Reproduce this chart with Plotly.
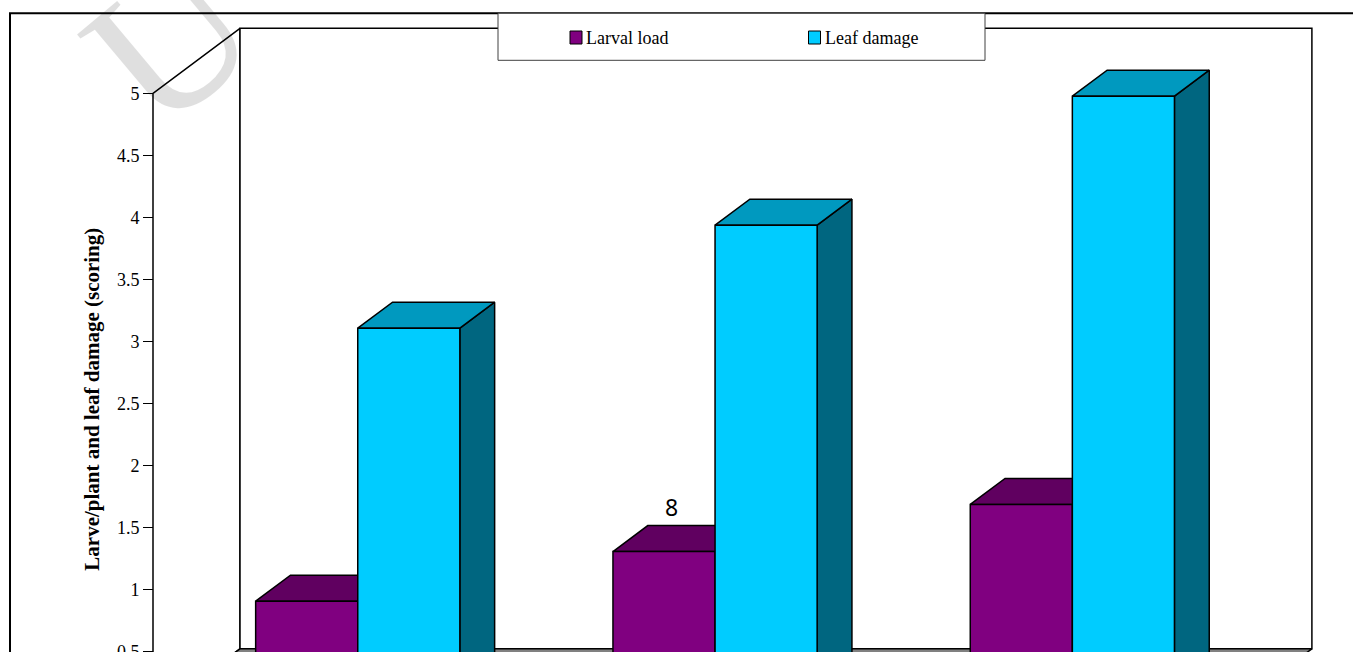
import plotly.graph_objects as go

# ---------------- data ----------------
categories = ["Group 1", "Group 2", "Group 3"]
series_names = ["Larval load", "Leaf damage"]
larval_load = [0.75, 1.15, 1.53]
leaf_damage = [2.95, 3.78, 4.82]
y_tick_vals = [0, 0.5, 1, 1.5, 2, 2.5, 3, 3.5, 4, 4.5, 5]
y_tick_text = ["0", "0.5", "1", "1.5", "2", "2.5", "3", "3.5", "4", "4.5", "5"]
axis_title = "Larve/plant and leaf damage (scoring)"
stray_label = "8"
watermark_text = "U"

# ---------------- layout / style constants ----------------
W, H = 1353, 652
FRONT_LEFT_PX = 153.0      # pixel x of front-left floor corner
CAT_PX = 357.3             # pixel width of one category
ZERO_PX = 713.8            # pixel y of value 0 on the front plane
UNIT_PX = 124.1            # pixels per value unit
DEPTH_DX_PX, DEPTH_DY_PX = 87.0, 65.0
YMAX = 5.0
GAP = 1.5                  # gap width (fraction of bar width)
Z0, Z1 = 0.3, 0.7          # depth extent of bars

x_range = [-FRONT_LEFT_PX / CAT_PX, (W - FRONT_LEFT_PX) / CAT_PX]
y_range = [(ZERO_PX - H) / UNIT_PX, ZERO_PX / UNIT_PX]
DX = DEPTH_DX_PX / CAT_PX
DV = DEPTH_DY_PX / UNIT_PX
N = len(categories)
BW = 1.0 / (len(series_names) + GAP)

front_colors = ["#800080", "#00CCFF"]
top_colors = ["#600060", "#0099BF"]
side_colors = ["#400040", "#006680"]
LINE = dict(color="black", width=1.5)


def proj(x, v, z):
    return x + z * DX, v + z * DV


def poly(pts):
    xs, ys = [], []
    for (x, v, z) in pts:
        px, py = proj(x, v, z)
        xs.append(px)
        ys.append(py)
    xs.append(xs[0])
    ys.append(ys[0])
    return xs, ys


def multi(polys):
    X, Y = [], []
    for pts in polys:
        xs, ys = poly(pts)
        X += xs + [None]
        Y += ys + [None]
    return X, Y


fig = go.Figure()

# walls and floor
side_wall = [(0, 0, 0), (0, 0, 1), (0, YMAX, 1), (0, YMAX, 0)]
back_wall = [(0, 0, 1), (N, 0, 1), (N, YMAX, 1), (0, YMAX, 1)]
floor = [(0, 0, 0), (N, 0, 0), (N, 0, 1), (0, 0, 1)]
for pts, col in [(side_wall, "white"), (back_wall, "white"), (floor, "#808080")]:
    xs, ys = poly(pts)
    fig.add_trace(go.Scatter(x=xs, y=ys, mode="lines", fill="toself",
                             fillcolor=col, line=LINE, hoverinfo="skip",
                             showlegend=False))

# bars (each face drawn from the data values)
series_values = [larval_load, leaf_damage]
for s, vals in enumerate(series_values):
    fronts, tops, sides = [], [], []
    for i, v in enumerate(vals):
        xl = i + GAP / 2 * BW + s * BW
        xr = xl + BW
        fronts.append([(xl, 0, Z0), (xr, 0, Z0), (xr, v, Z0), (xl, v, Z0)])
        tops.append([(xl, v, Z0), (xr, v, Z0), (xr, v, Z1), (xl, v, Z1)])
        sides.append([(xr, 0, Z0), (xr, 0, Z1), (xr, v, Z1), (xr, v, Z0)])
    for faces, col in [(sides, side_colors[s]), (tops, top_colors[s]),
                       (fronts, front_colors[s])]:
        X, Y = multi(faces)
        fig.add_trace(go.Scatter(x=X, y=Y, mode="lines", fill="toself",
                                 fillcolor=col, line=LINE, hoverinfo="skip",
                                 name=series_names[s], showlegend=False))


def px_x(p):
    return p / W


def px_y(p):
    return 1 - p / H


shapes = []
# outer frame
shapes.append(dict(type="path", xref="paper", yref="paper",
                   path=f"M {px_x(10)} {px_y(H + 10)} L {px_x(10)} {px_y(13.3)} L {px_x(W + 10)} {px_y(13.3)}",
                   line=dict(color="black", width=2), layer="above"))
# legend box
shapes.append(dict(type="rect", xref="paper", yref="paper",
                   x0=px_x(498), x1=px_x(985), y0=px_y(60.3), y1=px_y(13.3),
                   fillcolor="white", line=dict(color="#404040", width=1),
                   layer="above"))
annotations = []
legend_x = [570, 808.5]
for s, name in enumerate(series_names):
    shapes.append(dict(type="rect", xref="paper", yref="paper",
                       x0=px_x(legend_x[s]), x1=px_x(legend_x[s] + 12),
                       y0=px_y(44), y1=px_y(31),
                       fillcolor=front_colors[s],
                       line=dict(color="black", width=1), layer="above"))
    annotations.append(dict(xref="paper", yref="paper",
                            x=px_x(legend_x[s] + 14), y=px_y(38),
                            xanchor="left", yanchor="middle", showarrow=False,
                            text=name,
                            font=dict(family="Liberation Serif", size=18, color="black")))

# axis title
annotations.append(dict(xref="paper", yref="paper", x=px_x(91.7), y=px_y(399),
                        textangle=-90, showarrow=False, text=f"<b>{axis_title}</b>",
                        xanchor="center", yanchor="middle",
                        font=dict(family="Liberation Serif", size=21, color="black")))
# stray label
annotations.append(dict(xref="paper", yref="paper", x=px_x(671), y=px_y(507),
                        showarrow=False, text=stray_label, xanchor="center",
                        yanchor="middle",
                        font=dict(family="Noto Sans", size=23, color="black")))
# watermark
annotations.append(dict(xref="paper", yref="paper", x=px_x(170), y=px_y(40),
                        showarrow=False, text=watermark_text, textangle=-40,
                        opacity=0.12, xanchor="center", yanchor="middle",
                        font=dict(family="Liberation Serif", size=200, color="black")))

fig.update_layout(
    width=W, height=H,
    margin=dict(l=0, r=0, t=0, b=0, autoexpand=False),
    paper_bgcolor="white", plot_bgcolor="white",
    showlegend=False,
    xaxis=dict(range=x_range, visible=False, showgrid=False, zeroline=False,
               domain=[0, 1], automargin=False),
    yaxis=dict(range=y_range, anchor="free", position=FRONT_LEFT_PX / W,
               side="left", tickmode="array", tickvals=y_tick_vals,
               ticktext=y_tick_text, ticks="outside", ticklen=10,
               tickcolor="black", tickwidth=1, showgrid=False, zeroline=False,
               showline=False, domain=[0, 1], ticklabeloverflow="allow",
               automargin=False,
               tickfont=dict(family="Liberation Serif", size=18, color="black")),
    shapes=shapes,
    annotations=annotations,
)

fig.write_html("out.html")
